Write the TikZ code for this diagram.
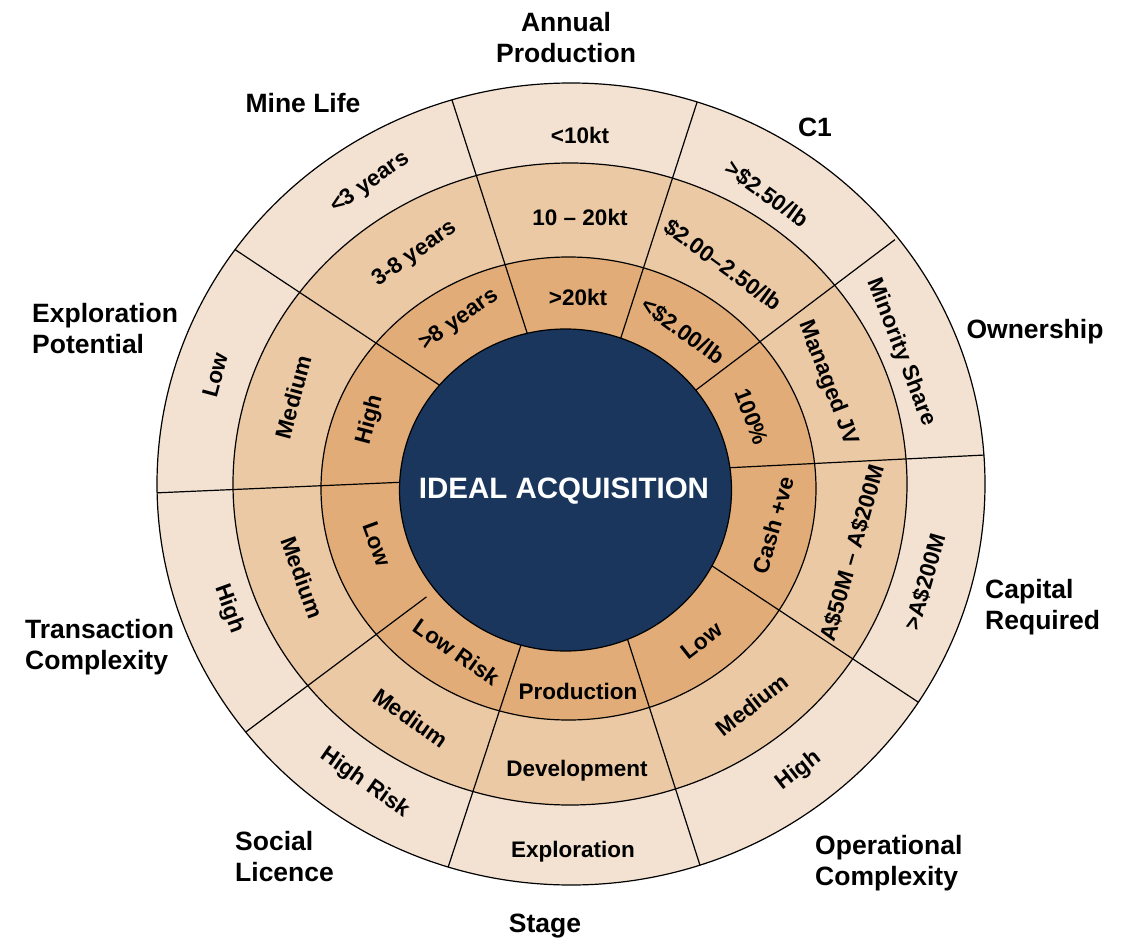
\documentclass[tikz,border=0pt]{standalone}
\usepackage{fontspec}
\setmainfont{Liberation Sans}
\definecolor{ringA}{HTML}{F3E2D1}
\definecolor{ringB}{HTML}{ECC9A5}
\definecolor{ringC}{HTML}{E1AC78}
\definecolor{navy}{HTML}{1A365D}
\begin{document}
\begin{tikzpicture}[x=1pt,y=-1pt,
  ringtxt/.style={font=\fontsize{22.5}{26}\selectfont\bfseries, inner sep=0pt},
  outertxt/.style={font=\fontsize{26.5}{31}\selectfont\bfseries, inner sep=0pt, align=left},
  ringline/.style={draw=black, line width=1.2pt},
  divider/.style={black, line width=1.2pt, shorten <=-8pt, shorten >=-8pt}]
\useasboundingbox (0,0) rectangle (1127,939);

% ring fills
\fill[ringA] (571,484) ellipse [x radius=414pt, y radius=401pt];
\fill[ringB] (570,484) ellipse [x radius=337pt, y radius=321pt];
\fill[ringC] (568.5,488.5) ellipse [x radius=247.5pt, y radius=231.5pt];

% sector dividers
\begin{scope}
\clip (571,484) ellipse [x radius=414pt, y radius=401pt];
\coordinate (b1i) at (526.7,331.7); \coordinate (b1o) at (451,97);
\coordinate (b2i) at (620.7,338.3); \coordinate (b2o) at (696.7,103.3);
\coordinate (b3i) at (696,390);     \coordinate (b3o) at (888.5,244.5);
\coordinate (b4i) at (730,467.7);   \coordinate (b4o) at (985,455);
\coordinate (b5i) at (713.3,566.7); \coordinate (b5o) at (920,703.3);
\coordinate (b6i) at (628.3,641.7); \coordinate (b6o) at (698.3,860);
\coordinate (b7i) at (521,645);     \coordinate (b7o) at (450.7,859.3);
\coordinate (b8i) at (420,601.7);   \coordinate (b8o) at (250.7,728.3);
\coordinate (b9i) at (400,482.3);   \coordinate (b9o) at (160,492.7);
\coordinate (b10i) at (436.7,383.3); \coordinate (b10o) at (230.7,246.7);
\foreach \k in {1,...,10} {\draw[divider] (b\k i) -- (b\k o);}
\end{scope}

% ring outlines
\draw[ringline] (571,484) ellipse [x radius=414pt, y radius=401pt];
\draw[ringline] (570,484) ellipse [x radius=337pt, y radius=321pt];
\draw[ringline] (568.5,488.5) ellipse [x radius=247.5pt, y radius=231.5pt];

% centre
\filldraw[fill=navy, draw=black, line width=1.2pt] (565.5,490) ellipse [x radius=166pt, y radius=161pt];
\node[font=\fontsize{29.5}{34}\selectfont\bfseries, text=white, inner sep=0pt] (centre) at (564,491) {IDEAL ACQUISITION};

% Annual Production
\node[ringtxt] (ap1) at (580,135) {<10kt};
\node[ringtxt] (ap2) at (580,217) {10 – 20kt};
\node[ringtxt] (ap3) at (578,297) {>20kt};
% C1
\node[ringtxt, rotate=-36] (c1a) at (767,194) {>\$2.50/lb};
\node[ringtxt, rotate=-36] (c1b) at (723,265) {\$2.00–2.50/lb};
\node[ringtxt, rotate=-36] (c1c) at (683,331) {<\$2.00/lb};
% Ownership
\node[ringtxt, rotate=-69] (ow1) at (901,352) {Minority Share};
\node[ringtxt, rotate=-69] (ow2) at (828,383) {Managed JV};
\node[ringtxt, rotate=-69] (ow3) at (752,417) {100\%};
% Capital Required
\node[ringtxt, rotate=74] (cr1) at (773,525) {Cash +ve};
\node[ringtxt, rotate=74] (cr2) at (852,553) {A\$50M – A\$200M};
\node[ringtxt, rotate=74] (cr3) at (925,582) {>A\$200M};
% Operational Complexity
\node[ringtxt, rotate=38] (oc1) at (702,641) {Low};
\node[ringtxt, rotate=38] (oc2) at (752,705) {Medium};
\node[ringtxt, rotate=38] (oc3) at (799,771) {High};
% Stage
\node[ringtxt] (st1) at (578,691) {Production};
\node[ringtxt] (st2) at (577,771) {Development};
\node[ringtxt] (st3) at (573,852) {Exploration};
% Social Licence
\node[ringtxt, rotate=-35] (sl1) at (457,652) {Low Risk};
\node[ringtxt, rotate=-35] (sl2) at (411,718) {Medium};
\node[ringtxt, rotate=-35] (sl3) at (365,783) {High Risk};
% Transaction Complexity
\node[ringtxt, rotate=-70] (tc1) at (377,544) {Low};
\node[ringtxt, rotate=-70] (tc2) at (302.5,577.5) {Medium};
\node[ringtxt, rotate=-70] (tc3) at (229,609) {High};
% Exploration Potential
\node[ringtxt, rotate=75] (ep1) at (370,420) {High};
\node[ringtxt, rotate=75] (ep2) at (293,397) {Medium};
\node[ringtxt, rotate=75] (ep3) at (215,375) {Low};
% Mine Life
\node[ringtxt, rotate=35] (ml1) at (459,320) {>8 years};
\node[ringtxt, rotate=35] (ml2) at (415,254) {3-8 years};
\node[ringtxt, rotate=35] (ml3) at (370,183) {<3 years};

% category labels
\node[outertxt, align=center, anchor=north] (lap) at (566,12) {Annual\\Production};
\node[outertxt, anchor=base] (lc1) at (815,136.7) {C1};
\node[outertxt, anchor=base] (low) at (1035,338) {Ownership};
\node[outertxt, anchor=north west] (lcr) at (985,579.3) {Capital\\Required};
\node[outertxt, anchor=north west] (loc) at (815,835.5) {Operational\\Complexity};
\node[outertxt, anchor=base] (lst) at (545,932) {Stage};
\node[outertxt, anchor=north west] (lsl) at (235,831) {Social\\Licence};
\node[outertxt, anchor=north west] (ltc) at (25,619.3) {Transaction\\Complexity};
\node[outertxt, anchor=north west] (lep) at (32,302.7) {Exploration\\Potential};
\node[outertxt, anchor=base] (lml) at (303,113) {Mine Life};
\end{tikzpicture}
\end{document}
